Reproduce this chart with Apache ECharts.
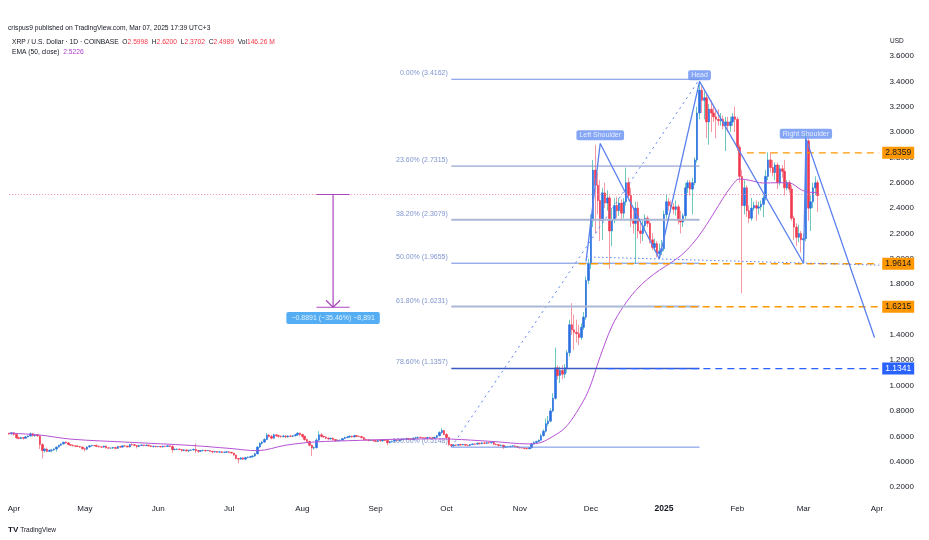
<!DOCTYPE html>
<html>
<head>
<meta charset="utf-8">
<script src="https://cdn.jsdelivr.net/npm/echarts@6/dist/echarts.min.js"></script>
<style>
  html, body { margin: 0; padding: 0; background: #fff; }
  #chart { width: 929px; height: 540px; }
</style>
</head>
<body>
<div id="chart"></div>
<script>
// XRP/USD daily candles, rows are [open, close, low, high]
const mar24 = [[0.623,0.618,0.612,0.628],[0.618,0.628,0.615,0.633]];
const apr24 = [
  [0.628,0.615,0.605,0.632],[0.615,0.589,0.580,0.617],[0.589,0.583,0.575,0.598],[0.583,0.590,0.578,0.596],
  [0.590,0.585,0.574,0.593],[0.585,0.596,0.583,0.600],[0.596,0.602,0.592,0.608],[0.602,0.620,0.600,0.630],
  [0.620,0.605,0.600,0.626],[0.605,0.612,0.596,0.616],[0.612,0.603,0.598,0.618],[0.603,0.535,0.500,0.608],
  [0.535,0.487,0.425,0.545],[0.487,0.499,0.472,0.505],[0.499,0.481,0.475,0.510],[0.481,0.490,0.478,0.496],
  [0.490,0.492,0.474,0.498],[0.492,0.500,0.485,0.505],[0.500,0.515,0.480,0.520],[0.515,0.530,0.512,0.534],
  [0.530,0.540,0.525,0.546],[0.540,0.553,0.535,0.558],[0.553,0.548,0.540,0.560],[0.548,0.534,0.530,0.555],
  [0.534,0.530,0.522,0.538],[0.530,0.525,0.520,0.536],[0.525,0.522,0.515,0.530],[0.522,0.520,0.516,0.528],
  [0.520,0.515,0.508,0.524],[0.515,0.502,0.495,0.520]
];
const may24 = [
  [0.502,0.498,0.480,0.510],[0.498,0.516,0.495,0.520],[0.516,0.525,0.510,0.530],[0.525,0.528,0.520,0.534],
  [0.528,0.526,0.520,0.532],[0.526,0.521,0.515,0.536],[0.521,0.517,0.512,0.528],[0.517,0.515,0.508,0.522],
  [0.515,0.523,0.510,0.526],[0.523,0.509,0.505,0.528],[0.509,0.507,0.502,0.513],[0.507,0.508,0.503,0.512],
  [0.508,0.512,0.500,0.516],[0.512,0.505,0.498,0.514],[0.505,0.520,0.502,0.524],[0.520,0.515,0.510,0.525],
  [0.515,0.525,0.512,0.528],[0.525,0.523,0.518,0.530],[0.523,0.516,0.512,0.526],[0.516,0.535,0.512,0.540],
  [0.535,0.534,0.525,0.545],[0.534,0.528,0.522,0.538],[0.528,0.520,0.505,0.532],[0.520,0.528,0.515,0.532],
  [0.528,0.532,0.525,0.536],[0.532,0.527,0.522,0.535],[0.527,0.530,0.524,0.536],[0.530,0.525,0.518,0.533],
  [0.525,0.520,0.515,0.530],[0.520,0.522,0.512,0.526],[0.522,0.518,0.513,0.527]
];
const jun24 = [
  [0.518,0.520,0.514,0.524],[0.520,0.516,0.512,0.523],[0.516,0.522,0.512,0.527],[0.522,0.520,0.515,0.525],
  [0.520,0.525,0.517,0.530],[0.525,0.520,0.515,0.528],[0.520,0.495,0.470,0.530],[0.495,0.498,0.490,0.503],
  [0.498,0.500,0.493,0.503],[0.500,0.496,0.490,0.502],[0.496,0.488,0.478,0.499],[0.488,0.493,0.482,0.500],
  [0.493,0.485,0.480,0.496],[0.485,0.490,0.475,0.494],[0.490,0.492,0.486,0.498],[0.492,0.497,0.488,0.503],
  [0.497,0.487,0.468,0.545],[0.487,0.482,0.470,0.492],[0.482,0.488,0.478,0.492],[0.488,0.490,0.482,0.496],
  [0.490,0.486,0.478,0.492],[0.486,0.488,0.483,0.491],[0.488,0.482,0.478,0.490],[0.482,0.477,0.465,0.485],
  [0.477,0.480,0.472,0.484],[0.480,0.475,0.470,0.483],[0.475,0.478,0.470,0.482],[0.478,0.473,0.468,0.481],
  [0.473,0.475,0.470,0.478],[0.475,0.478,0.470,0.481]
];
const jul24 = [
  [0.478,0.474,0.468,0.482],[0.474,0.468,0.462,0.478],[0.468,0.452,0.446,0.470],[0.452,0.425,0.418,0.455],
  [0.425,0.420,0.385,0.430],[0.420,0.430,0.416,0.436],[0.430,0.420,0.415,0.434],[0.420,0.432,0.410,0.438],
  [0.432,0.435,0.428,0.442],[0.435,0.440,0.428,0.446],[0.440,0.445,0.432,0.452],[0.445,0.462,0.440,0.470],
  [0.462,0.515,0.458,0.525],[0.515,0.545,0.510,0.552],[0.545,0.555,0.535,0.565],[0.555,0.575,0.548,0.585],
  [0.575,0.610,0.570,0.625],[0.610,0.600,0.588,0.618],[0.600,0.585,0.575,0.612],[0.585,0.612,0.582,0.620],
  [0.612,0.605,0.595,0.618],[0.605,0.600,0.590,0.612],[0.600,0.598,0.588,0.608],[0.598,0.603,0.592,0.610],
  [0.603,0.595,0.585,0.608],[0.595,0.602,0.590,0.610],[0.602,0.600,0.592,0.612],[0.600,0.605,0.594,0.610],
  [0.605,0.612,0.598,0.620],[0.612,0.625,0.605,0.632],[0.625,0.615,0.600,0.630]
];
const aug24 = [
  [0.615,0.600,0.585,0.620],[0.600,0.575,0.565,0.605],[0.575,0.560,0.550,0.580],[0.560,0.530,0.520,0.565],
  [0.530,0.508,0.445,0.535],[0.508,0.510,0.495,0.520],[0.510,0.570,0.505,0.585],[0.570,0.612,0.565,0.640],
  [0.612,0.600,0.590,0.625],[0.600,0.595,0.588,0.605],[0.595,0.585,0.578,0.600],[0.585,0.580,0.570,0.592],
  [0.580,0.585,0.575,0.590],[0.585,0.575,0.565,0.592],[0.575,0.565,0.558,0.580],[0.565,0.568,0.560,0.575],
  [0.568,0.570,0.563,0.575],[0.570,0.582,0.566,0.588],[0.582,0.590,0.578,0.598],[0.590,0.595,0.585,0.603],
  [0.595,0.600,0.588,0.608],[0.600,0.595,0.590,0.606],[0.595,0.605,0.592,0.612],[0.605,0.600,0.594,0.610],
  [0.600,0.598,0.592,0.606],[0.598,0.590,0.582,0.604],[0.590,0.575,0.565,0.596],[0.575,0.572,0.562,0.582],
  [0.572,0.568,0.560,0.578],[0.568,0.570,0.562,0.576],[0.570,0.565,0.560,0.574]
];
const sep24 = [
  [0.565,0.560,0.555,0.570],[0.560,0.568,0.555,0.572],[0.568,0.565,0.558,0.574],[0.565,0.572,0.555,0.578],
  [0.572,0.568,0.562,0.578],[0.568,0.550,0.528,0.572],[0.550,0.558,0.545,0.562],[0.558,0.562,0.552,0.566],
  [0.562,0.570,0.558,0.575],[0.570,0.568,0.562,0.574],[0.568,0.572,0.560,0.578],[0.572,0.575,0.566,0.580],
  [0.575,0.578,0.570,0.584],[0.578,0.582,0.572,0.588],[0.582,0.578,0.572,0.588],[0.578,0.575,0.568,0.584],
  [0.575,0.585,0.570,0.592],[0.585,0.590,0.578,0.596],[0.590,0.592,0.584,0.600],[0.592,0.590,0.582,0.598],
  [0.590,0.588,0.584,0.594],[0.588,0.585,0.578,0.592],[0.585,0.590,0.580,0.596],[0.590,0.588,0.582,0.596],
  [0.588,0.585,0.578,0.594],[0.585,0.592,0.580,0.598],[0.592,0.605,0.588,0.612],[0.605,0.630,0.600,0.640],
  [0.630,0.645,0.620,0.665],[0.645,0.615,0.608,0.650]
];
const oct24 = [
  [0.615,0.590,0.582,0.625],[0.590,0.535,0.525,0.595],[0.535,0.525,0.514,0.540],[0.525,0.532,0.520,0.536],
  [0.532,0.530,0.525,0.535],[0.530,0.535,0.526,0.538],[0.535,0.532,0.526,0.542],[0.532,0.536,0.528,0.540],
  [0.536,0.530,0.525,0.540],[0.530,0.528,0.520,0.535],[0.528,0.535,0.525,0.540],[0.535,0.540,0.532,0.545],
  [0.540,0.538,0.532,0.544],[0.538,0.545,0.535,0.552],[0.545,0.542,0.535,0.552],[0.542,0.548,0.538,0.555],
  [0.548,0.545,0.538,0.553],[0.545,0.550,0.540,0.556],[0.550,0.548,0.542,0.554],[0.548,0.552,0.544,0.558],
  [0.552,0.538,0.530,0.556],[0.538,0.535,0.528,0.542],[0.535,0.528,0.520,0.540],[0.528,0.530,0.522,0.535],
  [0.530,0.515,0.500,0.534],[0.515,0.518,0.510,0.522],[0.518,0.520,0.512,0.524],[0.520,0.522,0.514,0.526],
  [0.522,0.525,0.518,0.530],[0.525,0.520,0.514,0.528],[0.520,0.512,0.506,0.524]
];
const nov24 = [
  [0.512,0.510,0.502,0.518],[0.510,0.508,0.503,0.514],[0.508,0.505,0.496,0.512],[0.505,0.502,0.495,0.510],
  [0.502,0.510,0.498,0.515],[0.510,0.540,0.505,0.548],[0.540,0.552,0.535,0.560],[0.552,0.560,0.545,0.565],
  [0.560,0.570,0.555,0.575],[0.570,0.605,0.565,0.620],[0.605,0.640,0.598,0.655],[0.640,0.700,0.630,0.740],
  [0.700,0.720,0.680,0.760],[0.720,0.800,0.710,0.820],[0.800,0.900,0.790,0.940],[0.900,1.140,0.890,1.300],
  [1.140,1.080,1.050,1.160],[1.080,1.120,1.020,1.150],[1.120,1.090,1.050,1.160],[1.090,1.140,1.060,1.170],
  [1.140,1.260,1.100,1.280],[1.260,1.480,1.230,1.520],[1.480,1.440,1.400,1.650],[1.440,1.420,1.280,1.560],
  [1.420,1.410,1.340,1.520],[1.410,1.380,1.320,1.480],[1.380,1.460,1.360,1.490],[1.460,1.540,1.440,1.580],
  [1.540,1.830,1.520,1.860],[1.830,1.960,1.800,2.000]
];
const dec24 = [
  [1.960,2.300,1.920,2.350],[2.300,2.700,2.250,2.780],[2.700,2.580,2.200,2.900],[2.580,2.460,2.350,2.680],
  [2.460,2.300,2.140,2.620],[2.300,2.520,2.150,2.560],[2.520,2.440,2.400,2.600],[2.440,2.480,2.380,2.540],
  [2.480,2.220,1.920,2.500],[2.220,2.310,2.100,2.400],[2.310,2.420,2.280,2.480],[2.420,2.380,2.320,2.490],
  [2.380,2.440,2.340,2.480],[2.440,2.360,2.310,2.470],[2.360,2.450,2.320,2.480],[2.450,2.600,2.420,2.720],
  [2.600,2.500,2.460,2.640],[2.500,2.300,2.250,2.560],[2.300,2.280,2.200,2.400],[2.280,2.400,1.960,2.450],
  [2.400,2.220,2.160,2.450],[2.220,2.200,2.120,2.300],[2.200,2.260,2.140,2.300],[2.260,2.320,2.220,2.350],
  [2.320,2.280,2.250,2.340],[2.280,2.150,2.120,2.300],[2.150,2.090,2.070,2.200],[2.090,2.120,2.060,2.160],
  [2.120,2.040,2.010,2.140],[2.040,2.060,2.000,2.120],[2.060,2.080,2.030,2.150]
];
const jan25 = [
  [2.080,2.350,2.060,2.380],[2.350,2.450,2.320,2.510],[2.450,2.420,2.380,2.480],[2.420,2.410,2.370,2.460],
  [2.410,2.390,2.350,2.440],[2.390,2.410,2.340,2.460],[2.410,2.300,2.270,2.430],[2.300,2.290,2.200,2.380],
  [2.290,2.340,2.250,2.360],[2.340,2.560,2.310,2.600],[2.560,2.600,2.520,2.620],[2.600,2.550,2.500,2.620],
  [2.550,2.600,2.350,2.640],[2.600,2.780,2.580,2.800],[2.780,3.150,2.760,3.200],[3.150,3.330,3.100,3.400],
  [3.330,3.250,3.150,3.360],[3.250,3.270,3.100,3.320],[3.270,3.080,2.950,3.300],[3.080,3.180,2.900,3.220],
  [3.180,3.150,3.000,3.250],[3.150,3.120,3.080,3.200],[3.120,3.100,2.950,3.180],[3.100,3.090,3.050,3.180],
  [3.090,3.100,3.050,3.150],[3.100,3.050,3.020,3.130],[3.050,3.080,2.850,3.120],[3.080,3.050,3.000,3.120],
  [3.050,3.080,3.000,3.120],[3.080,3.120,3.050,3.150],[3.120,3.100,3.000,3.200]
];
const feb25 = [
  [3.100,2.880,2.850,3.120],[2.880,2.650,2.600,2.900],[2.650,2.420,1.730,2.700],[2.420,2.560,2.350,2.620],
  [2.560,2.380,2.330,2.580],[2.380,2.320,2.280,2.420],[2.320,2.400,2.300,2.480],[2.400,2.420,2.380,2.450],
  [2.420,2.400,2.300,2.460],[2.400,2.410,2.350,2.450],[2.410,2.430,2.380,2.460],[2.430,2.480,2.330,2.500],
  [2.480,2.650,2.460,2.700],[2.650,2.780,2.620,2.840],[2.780,2.720,2.680,2.840],[2.720,2.680,2.650,2.780],
  [2.680,2.740,2.620,2.760],[2.740,2.600,2.550,2.760],[2.600,2.710,2.580,2.740],[2.710,2.690,2.640,2.740],
  [2.690,2.560,2.500,2.780],[2.560,2.600,2.540,2.620],[2.600,2.550,2.520,2.620],[2.550,2.320,2.300,2.580],
  [2.320,2.250,2.150,2.340],[2.250,2.170,2.100,2.280],[2.170,2.200,2.130,2.270],[2.200,2.150,2.050,2.220]
];
const mar25 = [
  [2.150,2.160,1.965,2.200],[2.160,2.930,2.140,2.990],[2.930,2.400,2.300,2.950],[2.400,2.450,2.220,2.500],
  [2.450,2.560,2.400,2.600],[2.560,2.600,2.500,2.650],[2.5998,2.4989,2.3702,2.6200]
];

// EMA(50), [date, value]
const emaPoints = [
  ['2024-03-30',0.625],['2024-04-12',0.610],['2024-04-25',0.578],['2024-05-20',0.553],['2024-06-15',0.528],
  ['2024-07-01',0.505],['2024-07-13',0.487],['2024-07-25',0.530],['2024-08-06',0.555],['2024-08-25',0.568],
  ['2024-09-05',0.575],['2024-09-25',0.580],['2024-10-03',0.578],['2024-10-20',0.560],['2024-11-05',0.540],
  ['2024-11-10',0.552],['2024-11-15',0.600],['2024-11-20',0.665],['2024-11-25',0.790],['2024-11-30',0.960],
  ['2024-12-05',1.230],['2024-12-10',1.470],['2024-12-15',1.630],['2024-12-20',1.750],['2024-12-25',1.840],
  ['2024-12-30',1.910],['2025-01-04',1.970],['2025-01-09',2.040],['2025-01-14',2.140],['2025-01-19',2.270],
  ['2025-01-24',2.420],['2025-01-29',2.560],['2025-02-02',2.630],['2025-02-06',2.620],['2025-02-12',2.598],
  ['2025-02-18',2.600],['2025-02-23',2.598],['2025-02-28',2.545],['2025-03-03',2.526],['2025-03-07',2.523]
];

// fib retracement drawing
const fibNames = ['0.00%','23.60%','38.20%','50.00%','61.80%','78.60%','100.00%'];
const fibPrices = [3.4162, 2.7315, 2.3079, 1.9655, 1.6231, 1.1357, 0.5148];
const fibFrom = '2024-10-03';
const fibTo = '2025-01-16';

// horizontal levels with price tags on the axis
const levelPrices = [2.8359, 1.9614, 1.6215, 1.1341];
const levelFrom = ['2025-02-05', '2024-11-26', '2024-12-28', '2024-12-08'];

// head and shoulders polyline + callouts
const patternPath = [['2024-11-29',1.98],['2024-12-05',2.91],['2024-12-30',2.00],['2025-01-16',3.40],
  ['2025-03-01',1.965],['2025-03-02',2.95],['2025-03-31',1.38]];
const neckline = [['2024-11-29',2.015],['2025-04-02',1.95]];
const calloutNames = ['Left Shoulder', 'Head', 'Right Shoulder'];
const calloutDates = ['2024-12-05', '2025-01-16', '2025-03-02'];
const calloutPrices = [2.974, 3.448, 2.986];

// measure tool
const lastPrice = 2.5073;
const measureDate = '2024-08-14';
const measureTo = 1.6182;
const measureCaps = ['2024-08-07', '2024-08-21'];
const measureArrow = [['2024-08-11',1.673],['2024-08-14',1.6182],['2024-08-17',1.673]];
const measureText = '\u22120.8891 (\u221235.46%) \u22128,891';
const measureLabelAt = 1.533;

const MONTHS = ['Jan','Feb','Mar','Apr','May','Jun','Jul','Aug','Sep','Oct','Nov','Dec'];
const ohlcKeys = ['O', 'H', 'L', 'C', 'Vol'];
const ohlcVals = ['2.5998', '2.6200', '2.3702', '2.4989', '146.26 M'];
const emaLast = '2.5226';

const FONT = '"Liberation Sans", Arial, sans-serif';
const TXT = '#131722';
const DRAW_BLUE = '#5a80ee';
const UP = '#2a6fe2', DOWN = '#f0384f';
const UP_WICK = '#6cc7bc', DOWN_WICK = '#f59aa4';

// one category per calendar day, Mar 30 2024 .. Apr 2 2025
const days = [];
for (let i = 0; i < 369; i++) {
  days.push(new Date(Date.UTC(2024, 2, 30) + i * 86400000).toISOString().slice(0, 10));
}
const lastDay = days[days.length - 1];

const candles = [].concat(mar24, apr24, may24, jun24, jul24, aug24, sep24, oct24, nov24, dec24, jan25, feb25, mar25);
const bodies = candles.map(([o, c]) => [o, c, Math.min(o, c), Math.max(o, c)]);

function seg(data, color, width, type, extra) {
  return Object.assign({
    type: 'line', data, symbol: 'none', silent: true,
    lineStyle: { color, width, type }
  }, extra || {});
}

function textPoint(at, price, text, label) {
  return {
    type: 'scatter', silent: true, symbolSize: 1,
    itemStyle: { color: 'rgba(0,0,0,0)' },
    data: [[at, price]],
    label: Object.assign({ show: true, formatter: text, fontFamily: FONT }, label),
  };
}

const series = [];

// last price line (pink dotted)
series.push(seg([[days[0], lastPrice], [lastDay, lastPrice]], '#f08aa5', 1, [1, 2]));

// EMA
series.push({
  type: 'line', data: emaPoints, symbol: 'none', smooth: 0.35, silent: true,
  lineStyle: { color: '#b552d4', width: 1 }
});

// candles: wick layer then body layer
series.push({
  type: 'candlestick', data: candles, barWidth: 1, silent: true,
  itemStyle: { color: UP_WICK, color0: DOWN_WICK, borderColor: UP_WICK, borderColor0: DOWN_WICK, borderWidth: 1 }
});
series.push({
  type: 'candlestick', data: bodies, barWidth: 2, silent: true,
  itemStyle: { color: UP, color0: DOWN, borderColor: UP, borderColor0: DOWN, borderWidth: 0.6 }
});

// fib retracement
const fibColors = ['#6d8fe6', '#7d90c6', '#aab8d6', '#6a8bdd', '#aab8d6', '#3a5bc6', '#6d8fe6'];
const fibWidths = [1, 1, 2, 1, 2, 1.5, 1];
series.push(seg([[fibFrom, fibPrices[6]], [fibTo, fibPrices[0]]], DRAW_BLUE, 1, [2, 4]));
fibPrices.forEach((p, i) => {
  series.push(seg([[fibFrom, p], [fibTo, p]], fibColors[i], fibWidths[i], 'solid'));
  series.push(textPoint(fibFrom, p, fibNames[i] + ' (' + p.toFixed(4) + ')', {
    position: 'left', distance: 3, offset: [0, -6], fontSize: 7, color: '#5f79c4'
  }));
});

// horizontal levels with axis tags
const levelColors = ['#ff9800', '#ff9800', '#ff9800', '#2962ff'];
const tagText = ['#131722', '#131722', '#131722', '#ffffff'];
levelPrices.forEach((p, i) => {
  series.push(seg([[levelFrom[i], p], [lastDay, p]], levelColors[i], 1.4, [7, 5], {
    endLabel: {
      show: true, formatter: p.toFixed(4), distance: 3, fontFamily: FONT, fontSize: 8.5,
      color: tagText[i], backgroundColor: levelColors[i], padding: [2, 3, 1, 3]
    }
  }));
});

// head and shoulders
series.push(seg(neckline, DRAW_BLUE, 1, [1.5, 2.5]));
series.push(seg(patternPath, DRAW_BLUE, 1.3, 'solid'));
calloutNames.forEach((name, i) => {
  series.push(textPoint(calloutDates[i], calloutPrices[i], name, {
    position: 'inside', fontSize: 7, color: '#ffffff', backgroundColor: '#6790f2',
    padding: [2, 3, 1, 3], borderRadius: 2
  }));
});

// measure tool
const PURPLE = '#ab47bc';
series.push(seg([[measureDate, lastPrice], [measureDate, measureTo]], PURPLE, 1.2, 'solid'));
series.push(seg([[measureCaps[0], lastPrice], [measureCaps[1], lastPrice]], PURPLE, 1.2, 'solid'));
series.push(seg([[measureCaps[0], measureTo], [measureCaps[1], measureTo]], PURPLE, 1.2, 'solid'));
series.push(seg(measureArrow, PURPLE, 1.2, 'solid'));
series.push(textPoint(measureDate, measureLabelAt, measureText, {
  position: 'inside', fontSize: 7, color: '#ffffff', backgroundColor: '#2b9af0',
  padding: [3, 5, 2, 5], borderRadius: 2
}));

const HFS = 6.7;
const headerRich = {
  n: { color: TXT, fontSize: HFS, fontWeight: 'normal', fontFamily: FONT },
  r: { color: '#f23645', fontSize: HFS, fontWeight: 'normal', fontFamily: FONT },
  p: { color: '#a73ec9', fontSize: HFS, fontWeight: 'normal', fontFamily: FONT }
};
const headerBase = { fontSize: HFS, fontWeight: 'normal', color: TXT, fontFamily: FONT, rich: headerRich };
const headerLine = '{n|XRP / U.S. Dollar \u00b7 1D \u00b7 COINBASE}' +
  ohlcKeys.map((k, i) => '  {n|' + k + '}{r|' + ohlcVals[i] + '}').join('');

const chart = echarts.init(document.getElementById('chart'), null, { renderer: 'canvas' });
chart.setOption({
  animation: false,
  backgroundColor: '#ffffff',
  title: [
    { left: 8, top: 24.5, padding: 0, text: 'crispus9 published on TradingView.com, Mar 07, 2025 17:39 UTC+3',
      textStyle: headerBase },
    { left: 12, top: 38.5, padding: 0, text: headerLine, textStyle: headerBase },
    { left: 12, top: 48.5, padding: 0, text: '{n|EMA (50, close)}  {p|' + emaLast + '}', textStyle: headerBase },
    { left: 890, top: 38, padding: 0, text: 'USD', textStyle: { fontSize: 6.5, fontWeight: 'normal', color: TXT, fontFamily: FONT } },
    { left: 8, top: 526, padding: 0, text: '{l|TV} {n|TradingView}',
      textStyle: { fontSize: 7, fontWeight: 'normal', rich: { l: { fontSize: 8, fontWeight: 900, color: TXT, fontFamily: FONT }, n: { fontSize: 6.5, color: TXT, fontFamily: FONT } } } }
  ],
  grid: { left: 8, right: 48.6, top: 30.6, bottom: 27.6, outerBoundsMode: 'none' },
  xAxis: {
    type: 'category', data: days, offset: -12,
    axisLine: { show: false }, axisTick: { show: false }, splitLine: { show: false },
    axisLabel: {
      interval: (i, v) => v.slice(8) === '01', margin: 4, hideOverlap: false,
      fontSize: 8, color: TXT, fontFamily: FONT,
      formatter: (v) => {
        const m = +v.slice(5, 7);
        return m === 1 ? '{y|' + v.slice(0, 4) + '}' : MONTHS[m - 1];
      },
      rich: { y: { fontSize: 8.5, fontWeight: 'bold', color: TXT, fontFamily: FONT } }
    }
  },
  yAxis: {
    type: 'value', position: 'right', min: 0, max: 3.8, interval: 0.2, scale: false,
    axisLine: { show: false }, axisTick: { show: false }, splitLine: { show: false },
    axisLabel: {
      margin: 9, fontSize: 8, color: TXT, fontFamily: FONT,
      formatter: (v) => (v < 0.05 || v > 3.75) ? '' : v.toFixed(4)
    }
  },
  series
});
</script>
</body>
</html>
